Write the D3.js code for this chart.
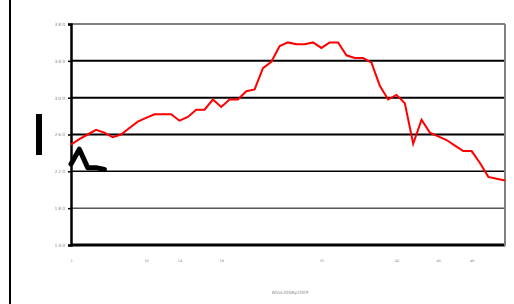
<!DOCTYPE html>
<meta charset="utf-8">
<title>Años 2008 y 2009</title>
<style>
body { margin: 0; background: #fff; }
svg { display: block; }
.tick text { font: 4.5px "DejaVu Sans", sans-serif; fill: #888; letter-spacing: 1px; }
.xax .tick text { font-size: 3.5px; letter-spacing: 0; }
.xtitle { font: 4.5px "DejaVu Sans", sans-serif; fill: #888; }
</style>
<svg width="514" height="304"></svg>
<script src="https://d3js.org/d3.v7.min.js"></script>
<script>

// weekly values, 53 weeks
var weeks = d3.range(53);
var redSeries = [249, 255, 260, 265, 262, 257, 260, 267, 274, 278,
  282, 282, 282, 275, 279, 287, 287, 298, 290, 298,
  298, 307, 309, 332, 339, 356, 360, 358, 358, 360,
  354, 360, 360, 346, 343, 343, 338, 313, 298, 303,
  294, 250, 276, 262, 258, 254, 248, 242, 242, 229,
  214, 212, 210];
var blackSeries = [228, 244, 224, 224, 222];
var yTicks = [140, 180, 220, 260, 300, 340, 380];
var xTickWeeks = [0, 9, 13, 18, 30, 39, 44, 48];
var xTickLabels = ["1", "10", "14", "19", "31", "40", "45", "49"];

var svg = d3.select("svg"),
    plotL = 71, plotR = 505, plotT = 24, plotB = 245;

var x = d3.scalePoint().domain(weeks).range([plotL, plotR]);
var y = d3.scaleLinear().domain([140, 380]).range([plotB, plotT]);

// outer line and marker at left
svg.append("line").attr("x1", 10).attr("x2", 10).attr("y1", 0).attr("y2", 304)
    .style("stroke", "#000").style("stroke-width", 2);
svg.append("rect").attr("x", 36).attr("y", 114).attr("width", 6).attr("height", 41)
    .style("fill", "#000");

// gridlines
var gridW = {140: 3, 180: 1, 220: 1.5, 260: 2, 300: 2, 340: 2, 380: 2};
svg.selectAll(".grid")
  .data(yTicks)
  .enter().append("line")
    .attr("class", "grid")
    .attr("x1", plotL).attr("x2", plotR)
    .attr("y1", function(d) { return y(d); })
    .attr("y2", function(d) { return y(d); })
    .style("stroke", function(d) { return d == 380 ? "#808080" : "#000"; })
    .style("stroke-width", function(d) { return gridW[d]; });

svg.append("line").attr("x1", plotR).attr("x2", plotR).attr("y1", plotT).attr("y2", plotB + 1)
    .style("stroke", "#808080").style("stroke-width", 2);

// y axis
var yAxis = svg.append("g")
    .attr("transform", "translate(" + plotL + ",0)")
    .call(d3.axisLeft(y).tickValues(yTicks).tickSize(3).tickPadding(2));
yAxis.select(".domain").style("stroke", "#000").style("stroke-width", 2.5);
yAxis.selectAll(".tick line").style("stroke", "#000").style("stroke-width", 1.5);

// x axis labels
var xAxis = svg.append("g")
    .attr("class", "xax")
    .attr("transform", "translate(0," + (plotB + 12) + ")")
    .call(d3.axisBottom(x).tickValues(xTickWeeks)
      .tickFormat(function(d, i) { return xTickLabels[i]; }).tickSize(0));
xAxis.select(".domain").remove();

svg.append("text").attr("class", "xtitle")
    .attr("x", 290).attr("y", 294).attr("text-anchor", "middle")
    .text("Años2008y2009");

var line = d3.line()
    .x(function(d, i) { return x(weeks[i]); })
    .y(function(d) { return y(d); });

svg.append("path").datum(blackSeries)
    .attr("d", line)
    .style("fill", "none").style("stroke", "#000")
    .style("stroke-width", 5).style("stroke-linejoin", "round").style("stroke-linecap", "round");

svg.append("path").datum(redSeries)
    .attr("d", line)
    .style("fill", "none").style("stroke", "#ff0000").style("stroke-width", 2);

</script>
